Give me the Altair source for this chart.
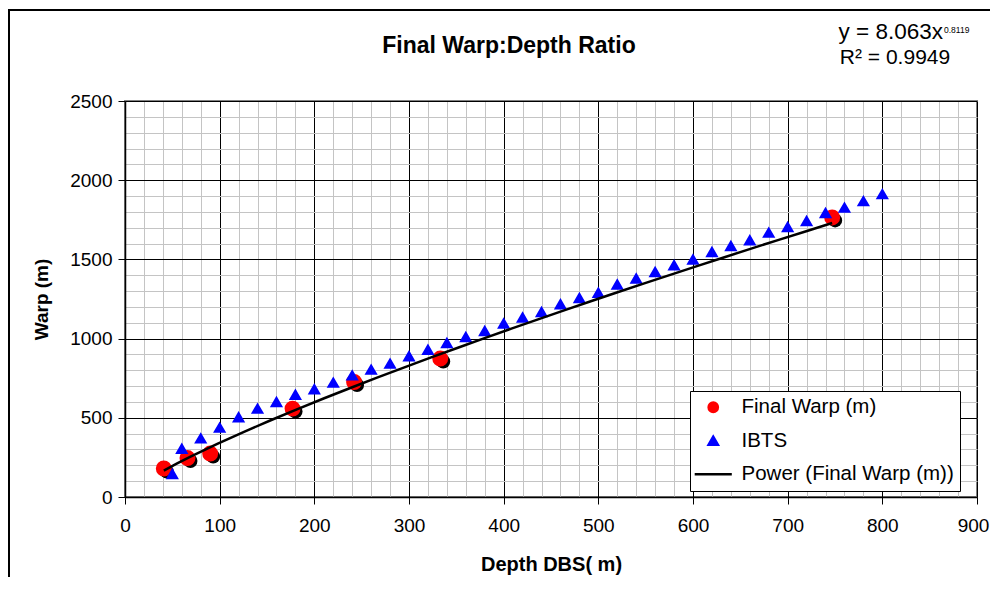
import altair as alt
import pandas as pd

# ---------------- data ----------------
final_depth = [41, 66, 90, 177, 242, 333, 747]
final_warp = [180, 246, 274, 558, 726, 874, 1765]

ibts_depth = [50, 60, 80, 100, 120, 140, 160, 180, 200, 220, 240, 260, 280, 300,
              320, 340, 360, 380, 400, 420, 440, 460, 480, 500, 520, 540, 560, 580,
              600, 620, 640, 660, 680, 700, 720, 740, 760, 780, 800]
ibts_warp = [145, 305, 370, 438, 503, 558, 600, 646, 680, 722, 768, 804, 842, 888,
             930, 972, 1010, 1048, 1095, 1133, 1168, 1217, 1256, 1290, 1341, 1379, 1420, 1463,
             1499, 1547, 1585, 1621, 1669, 1705, 1742, 1793, 1827, 1868, 1912]

series_names = ["Final Warp (m)", "IBTS", "Power (Final Warp (m))"]
series_colors = ["#FF0000", "#0000FF", "#000000"]
series_shapes = ["circle", "triangle-up", "M-4,0L4,0"]

x_major = [0, 100, 200, 300, 400, 500, 600, 700, 800, 900]
x_minor = list(range(0, 901, 20))
y_major = [0, 500, 1000, 1500, 2000, 2500]
y_minor = list(range(0, 2501, 100))

title_text = ["Final Warp:Depth Ratio"]
eq_main = ["y = 8.063x"]
eq_exp = ["0.8119"]
eq_r2 = ["R² = 0.9949"]

FONT = "Liberation Sans"
W, H = 852, 396

final_df = pd.DataFrame({"depth": final_depth, "warp": final_warp, "series": series_names[0]})
ibts_df = pd.DataFrame({"depth": ibts_depth, "warp": ibts_warp, "series": series_names[1]})

xs = alt.Scale(domain=[0, 900], nice=False, zero=False)
ys = alt.Scale(domain=[0, 2500], nice=False, zero=False)
fill_s = alt.Scale(domain=series_names, range=series_colors)
stroke_s = alt.Scale(domain=series_names, range=series_colors)
shape_s = alt.Scale(domain=series_names, range=series_shapes)

leg = alt.Legend(title=None, orient="none", legendX=565, legendY=290,
                 fillColor="white", strokeColor="black", padding=6,
                 labelFont=FONT, labelFontSize=20.5, labelColor="black",
                 labelLimit=400, symbolSize=86, symbolStrokeWidth=2.5,
                 symbolOffset=7, labelOffset=18, rowPadding=12.5)

minor_x = alt.Axis(values=x_minor, grid=True, gridColor="#c4c4c4", gridWidth=1,
                   labels=False, ticks=False, domain=False, title=None, orient="bottom")
minor_y = alt.Axis(values=y_minor, grid=True, gridColor="#c4c4c4", gridWidth=1,
                   labels=False, ticks=False, domain=False, title=None, orient="left")
major_x = alt.Axis(values=x_major, grid=True, gridColor="#000000", gridWidth=1,
                   domainColor="black", domainWidth=1.5, tickColor="black", tickSize=7,
                   labelFont=FONT, labelFontSize=19, labelColor="black", labelPadding=12,
                   labelOffset={"condition": {"test": "datum.value == 900", "value": -4},
                                "value": 0},
                   format="d",
                   title="Depth DBS( m)", titleFont=FONT, titleFontSize=20,
                   titleFontWeight="bold", titleColor="black", titlePadding=19,
                   orient="bottom", labelFlush=False)
major_y = alt.Axis(values=y_major, grid=True, gridColor="#000000", gridWidth=1,
                   domainColor="black", domainWidth=1.5, tickColor="black", tickSize=7,
                   labelFont=FONT, labelFontSize=19, labelColor="black", labelPadding=6,
                   format="d",
                   title="Warp (m)", titleFont=FONT, titleFontSize=19,
                   titleFontWeight="bold", titleColor="black", titlePadding=18,
                   orient="left", labelFlush=False)

shadow = alt.Chart(final_df).mark_point(
    filled=True, shape="circle", size=195, color="black", opacity=1, xOffset=3, yOffset=3
).encode(
    x=alt.X("depth:Q", scale=xs, axis=minor_x),
    y=alt.Y("warp:Q", scale=ys, axis=minor_y),
)

final_pts = alt.Chart(final_df).mark_point(filled=True, opacity=1, size=195).encode(
    x=alt.X("depth:Q", scale=xs, axis=major_x),
    y=alt.Y("warp:Q", scale=ys, axis=major_y),
    fill=alt.Fill("series:N", scale=fill_s, legend=leg),
    stroke=alt.Stroke("series:N", scale=stroke_s, legend=leg),
    shape=alt.Shape("series:N", scale=shape_s, legend=leg),
)

ibts_pts = alt.Chart(ibts_df).mark_point(filled=True, opacity=1, size=95).encode(
    x=alt.X("depth:Q", scale=xs, axis=None),
    y=alt.Y("warp:Q", scale=ys, axis=None),
    fill=alt.Fill("series:N", scale=fill_s, legend=leg),
    stroke=alt.Stroke("series:N", scale=stroke_s, legend=leg),
    shape=alt.Shape("series:N", scale=shape_s, legend=leg),
)

power = alt.Chart(final_df).transform_regression(
    "depth", "warp", method="pow"
).transform_calculate(
    series="'" + series_names[2] + "'"
).mark_line(strokeWidth=2.5).encode(
    x=alt.X("depth:Q", scale=xs, axis=None),
    y=alt.Y("warp:Q", scale=ys, axis=None),
    stroke=alt.Stroke("series:N", scale=stroke_s, legend=None),
)

def text_layer(values, x, y, size, align, bold=False):
    return alt.Chart(pd.DataFrame({"t": values})).mark_text(
        font=FONT, fontSize=size, fontWeight="bold" if bold else "normal",
        align=align, baseline="alphabetic", color="black"
    ).encode(x=alt.value(x), y=alt.value(y), text="t:N")

title_layer = text_layer(title_text, 384, -48, 23, "center", bold=True)
eq1 = text_layer(eq_main, 818, -62.5, 22.5, "right")
eq2 = text_layer(eq_exp, 819, -68, 8.5, "left")
eq3 = text_layer(eq_r2, 770, -37.5, 21, "center")

frame_df = pd.DataFrame({"k": ["frame"]})
frame_left = alt.Chart(frame_df).mark_rule(color="black", strokeWidth=2).encode(
    x=alt.value(-116), y=alt.value(-91), y2=alt.value(H + 90))
frame_top = alt.Chart(frame_df).mark_rule(color="black", strokeWidth=2).encode(
    x=alt.value(-117), x2=alt.value(W + 13), y=alt.value(-91))

chart = alt.layer(
    shadow, final_pts, ibts_pts, power, title_layer, eq1, eq2, eq3, frame_left, frame_top
).resolve_axis(
    x="independent", y="independent"
).properties(
    width=W, height=H,
    autosize=alt.AutoSizeParams(type="none"),
    padding={"left": 117, "top": 93, "right": 13, "bottom": 80},
    background="white",
).configure_view(
    stroke="#808080", strokeWidth=2
)

chart.save("out.html", embed_options={"renderer": "svg", "actions": False})
